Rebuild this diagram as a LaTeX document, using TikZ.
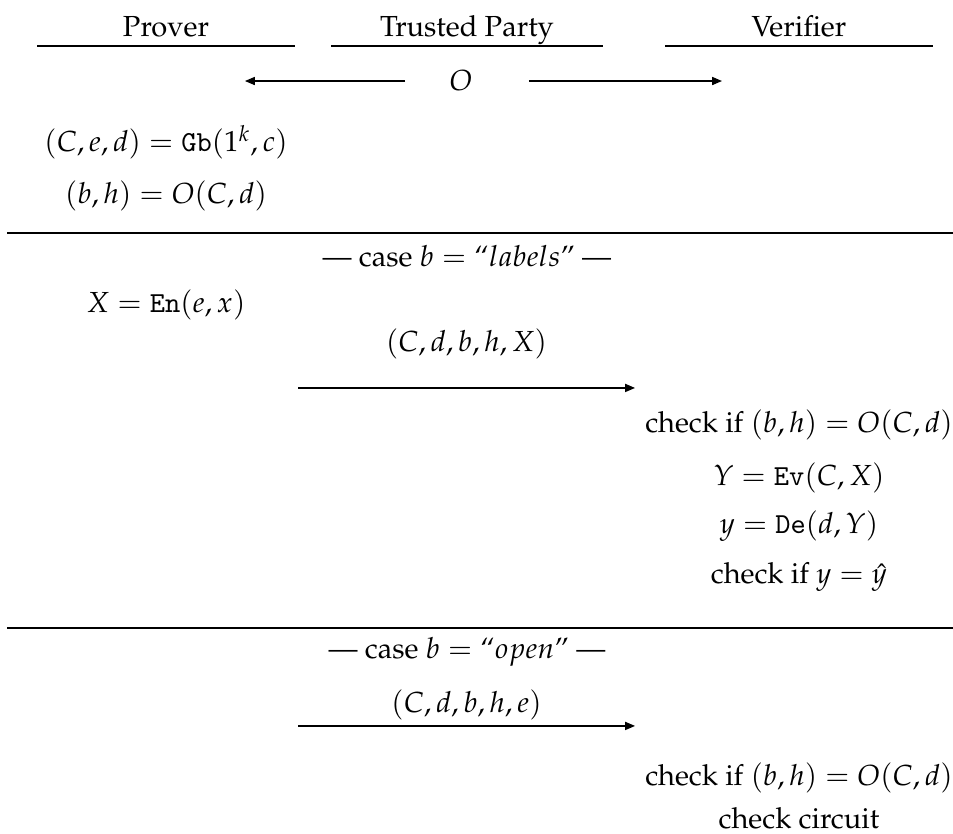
\documentclass[tikz,border=0pt]{standalone}
\usepackage[T1]{fontenc}
\usepackage{amsmath}
\usepackage{mathpazo}
\usepackage{tikz}
\usetikzlibrary{arrows.meta, calc, positioning}
\newcommand{\algo}[1]{\text{\fontencoding{OT1}\fontfamily{cmtt}\selectfont #1}}
\newcommand{\Gb}{\algo{Gb}}
\newcommand{\En}{\algo{En}}
\newcommand{\Ev}{\algo{Ev}}
\newcommand{\De}{\algo{De}}

\begin{document}
\begin{tikzpicture}[
  party/.style={anchor=base, inner sep=0pt},
  op/.style={anchor=base, inner sep=0pt},
  msg/.style={-{Triangle[length=3.4pt, width=2.8pt]}, line width=0.4pt},
  sep/.style={line width=0.5pt}
]
  \useasboundingbox (0,0) rectangle (11.538,-10.097);

  % Parties
  \node[party, minimum width=3.099cm] (prover) at (2.010, -0.436) {Prover};
  \node[party, minimum width=3.269cm] (tp) at (5.654, -0.436) {Trusted Party};
  \node[party, minimum width=3.220cm] (verifier) at (9.673, -0.436) {Verifier};
  \foreach \p in {prover, tp, verifier}
    \draw[sep] ([yshift=-3.4pt]\p.base west) -- ([yshift=-3.4pt]\p.base east);

  % Oracle
  \node (oracle) at (5.581, -0.981) {$O$};
  \coordinate (oL) at (2.966, -0.981);
  \coordinate (oR) at (8.741, -0.981);
  \draw[msg] ([xshift=-11.8pt]oracle.west) -- (oL);
  \draw[msg] ([xshift=16pt]oracle.east) -- (oR);

  % Setup
  \node[op] (gb) at (2.010, -1.840) {$(C, e, d) = \Gb(1^k, c)$};
  \node[op] (ob) at (2.010, -2.458) {$(b, h) = O(C, d)$};
  \draw[sep] (0.085, -2.821) -- (11.538, -2.821);

  % Case labels
  \node[op] (case1) at (5.654, -3.232) {--- case $b = \text{``}labels\text{''}$ ---};
  \node[op] (en) at (2.010, -3.789) {$X = \En(e, x)$};
  \coordinate (m1s) at (3.608, -4.697);
  \coordinate (m1e) at (7.688, -4.697);
  \draw[msg] (m1s) -- node[above=6.5pt] {$(C, d, b, h, X)$} (m1e);
  \node[op] (chk1) at (9.673, -5.242) {check if $(b, h) = O(C, d)$};
  \node[op] (ev) at (9.673, -5.872) {$Y = \Ev(C, X)$};
  \node[op] (de) at (9.673, -6.465) {$y = \De(d, Y)$};
  \node[op] (chky) at (9.673, -7.070) {check if $y = \hat{y}$};
  \draw[sep] (0.085, -7.603) -- (11.538, -7.603);

  % Case open
  \node[op] (case2) at (5.654, -7.978) {--- case $b = \text{``}open\text{''}$ ---};
  \coordinate (m2s) at (3.608, -8.789);
  \coordinate (m2e) at (7.688, -8.789);
  \draw[msg] (m2s) -- node[above=-1.5pt] {$(C, d, b, h, e)$} (m2e);
  \node[op] (chk2) at (9.673, -9.510) {check if $(b, h) = O(C, d)$};
  \node[op] (circ) at (9.673, -10.030) {check circuit};
\end{tikzpicture}
\end{document}
